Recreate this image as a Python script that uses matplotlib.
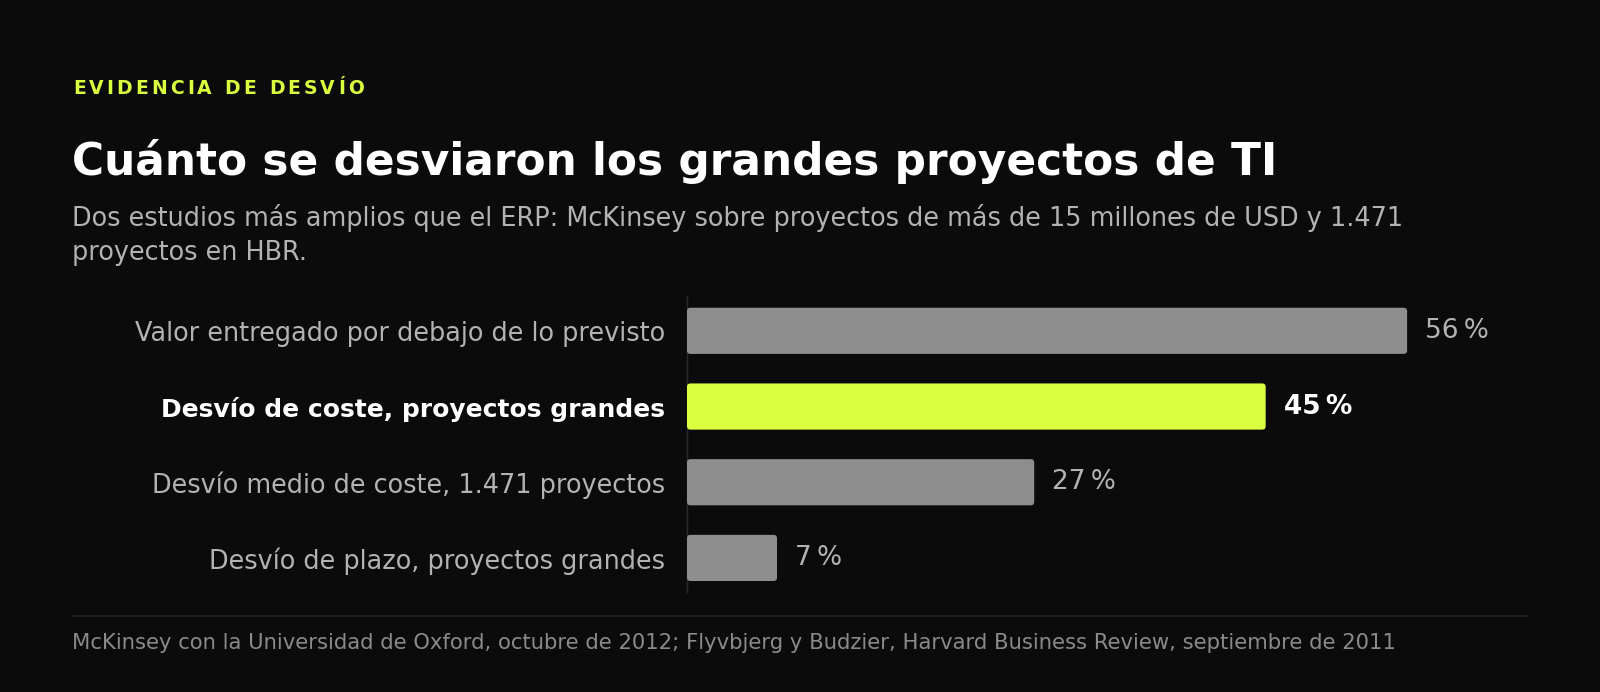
import matplotlib
matplotlib.use("Agg")
import matplotlib.pyplot as plt
from matplotlib.patches import FancyBboxPatch
from matplotlib.textpath import TextPath
from matplotlib.font_manager import FontProperties, findfont

plt.rcParams["font.family"] = ["DejaVu Sans"]

# ---- data ----
categories = [
    "Valor entregado por debajo de lo previsto",
    "Desvío de coste, proyectos grandes",
    "Desvío medio de coste, 1.471 proyectos",
    "Desvío de plazo, proyectos grandes",
]
values = [56, 45, 27, 7]
highlight = [False, True, False, False]
value_labels = ["56\u2009%", "45\u2009%", "27\u2009%", "7\u2009%"]

kicker = "EVIDENCIA DE DESVÍO"
title = "Cuánto se desviaron los grandes proyectos de TI"
subtitle_lines = [
    "Dos estudios más amplios que el ERP: McKinsey sobre proyectos de más de 15 millones de USD y 1.471",
    "proyectos en HBR.",
]
source = ("McKinsey con la Universidad de Oxford, octubre de 2012; Flyvbjerg y Budzier, "
          "Harvard Business Review, septiembre de 2011")

# ---- style ----
BG = "#0b0b0b"
ACCENT = "#d9ff3f"
BAR_GREY = "#8e8e8e"
LABEL_GREY = "#b3b3b3"
FOOT_GREY = "#8a8a8a"

W, H = 1600, 692
DPI = 100
fig = plt.figure(figsize=(W / DPI, H / DPI), dpi=DPI, facecolor=BG)

def fx(px):
    return px / W

def fy(py):
    return 1 - py / H

# axes placement in pixel coords
ax_left, ax_right, ax_top, ax_bottom = 687, 1528, 296, 592
ax = fig.add_axes([fx(ax_left), fy(ax_bottom), fx(ax_right - ax_left), (ax_bottom - ax_top) / H])
ax.set_facecolor(BG)
XMAX = 65.4
ax.set_xlim(0, XMAX)
ax.set_ylim(3.45, -0.46)

ypos = list(range(len(categories)))
bar_h = 0.61
bars = ax.barh(ypos, values, height=bar_h, color="none", edgecolor="none")

# rounded replacement patches
px_per_x = (ax_right - ax_left) / XMAX
px_per_y = (ax_bottom - ax_top) / (3.45 + 0.46)
radius_px = 3.5
aspect = (1 / px_per_y) / (1 / px_per_x)
for rect, hl in zip(bars.patches, highlight):
    x0, y0 = rect.get_x(), rect.get_y()
    w, h = rect.get_width(), rect.get_height()
    p = FancyBboxPatch((x0, y0), w, h,
                       boxstyle=f"round,pad=0,rounding_size={radius_px / px_per_x}",
                       mutation_aspect=aspect,
                       facecolor=ACCENT if hl else BAR_GREY, edgecolor="none", zorder=3)
    ax.add_patch(p)
    rect.set_visible(False)

for y, v, lab, hl in zip(ypos, values, value_labels, highlight):
    ax.annotate(lab, (v, y), xytext=(18, 0), textcoords="offset pixels",
                va="center", ha="left", fontsize=19,
                fontweight="bold" if hl else "normal",
                color="white" if hl else LABEL_GREY)

ax.set_yticks(ypos)
ax.set_yticklabels(categories)
for tl, hl in zip(ax.get_yticklabels(), highlight):
    tl.set_fontsize(18.0 if hl else 18.4)
    tl.set_color("white" if hl else LABEL_GREY)
    tl.set_fontweight("bold" if hl else "normal")
ax.tick_params(axis="y", length=0, pad=16)
ax.tick_params(axis="x", bottom=False, labelbottom=False)
for s in ["top", "right", "bottom"]:
    ax.spines[s].set_visible(False)
ax.spines["left"].set_color("#2a2a2a")
ax.spines["left"].set_linewidth(1)

# ---- texts ----
# letter-spaced kicker: place each character using true glyph advances plus tracking
kfs = 13.5
kprop = FontProperties(family="DejaVu Sans", weight="bold", size=kfs)
adv = []
try:
    from matplotlib.ft2font import FT2Font
    ft = FT2Font(findfont(kprop))
    ft.set_size(kfs, DPI)
    for ch in kicker:
        g = ft.load_char(ord(ch))
        adv.append(g.linearHoriAdvance / 65536)
except Exception:
    px_per_pt = DPI / 72
    for ch in kicker:
        w = TextPath((0, 0), "H" + ch + "H", prop=kprop).get_extents().width - \
            TextPath((0, 0), "HH", prop=kprop).get_extents().width
        adv.append(w * px_per_pt)
target_w = 291
natural = sum(adv[:-1])
last_w = adv[-1]
track = (target_w - natural - last_w) / (len(kicker) - 1)
xk = 73
for ch, a in zip(kicker, adv):
    if ch != " ":
        fig.text(fx(xk), fy(94.3), ch, color=ACCENT, fontproperties=kprop,
                 va="baseline", ha="left")
    xk += a + track

fig.text(fx(72), fy(175), title, color="white", fontsize=31.6, fontweight="bold",
         va="baseline", ha="left")
for i, line in enumerate(subtitle_lines):
    fig.text(fx(72), fy(225.5 + 34.5 * i), line, color=LABEL_GREY, fontsize=18.4,
             va="baseline", ha="left")

# separator line
fig.add_artist(plt.Line2D([fx(72), fx(1528)], [fy(616), fy(616)], color="#232323", lw=1.2))
fig.text(fx(72), fy(643), source, color=FOOT_GREY, fontsize=15.2, va="center", ha="left")

fig.savefig("out.png", dpi=DPI, facecolor=BG)
